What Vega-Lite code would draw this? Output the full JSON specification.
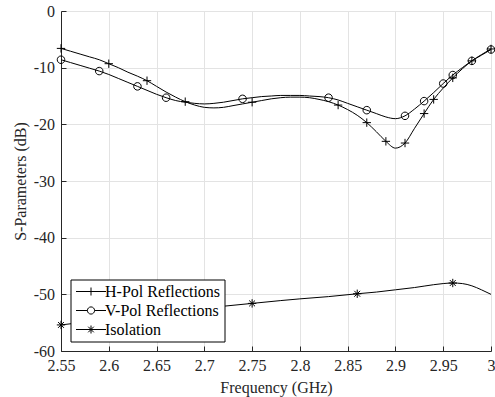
{
  "$schema": "https://vega.github.io/schema/vega-lite/v6.json",
  "autosize": "none",
  "width": 430,
  "height": 340,
  "padding": {"left": 61, "top": 11, "right": 4, "bottom": 46},
  "background": "white",
  "config": {
    "view": {"stroke": "#e3e3e3"},
    "font": "Liberation Serif",
    "axis": {
      "labelFont": "Liberation Serif",
      "titleFont": "Liberation Serif",
      "labelFontSize": 16,
      "titleFontSize": 16,
      "titleFontWeight": "normal",
      "labelColor": "#262626",
      "titleColor": "#262626",
      "domainColor": "#262626",
      "tickColor": "#262626",
      "gridColor": "#e3e3e3",
      "gridOpacity": 1,
      "tickSize": -5,
      "labelFlush": false,
      "labelOverlap": false
    },
    "legend": {
      "labelFont": "Liberation Serif",
      "labelFontSize": 16,
      "labelColor": "#000000"
    }
  },
  "resolve": {"scale": {"shape": "independent"}},
  "datasets": {
    "curves": [
      {"f": 2.55, "s": "H-Pol Reflections", "db": -6.6},
      {"f": 2.56, "s": "H-Pol Reflections", "db": -7.1},
      {"f": 2.57, "s": "H-Pol Reflections", "db": -7.6},
      {"f": 2.58, "s": "H-Pol Reflections", "db": -8.1},
      {"f": 2.59, "s": "H-Pol Reflections", "db": -8.6},
      {"f": 2.60, "s": "H-Pol Reflections", "db": -9.3},
      {"f": 2.61, "s": "H-Pol Reflections", "db": -10.0},
      {"f": 2.62, "s": "H-Pol Reflections", "db": -10.8},
      {"f": 2.63, "s": "H-Pol Reflections", "db": -11.5},
      {"f": 2.64, "s": "H-Pol Reflections", "db": -12.3},
      {"f": 2.65, "s": "H-Pol Reflections", "db": -13.3},
      {"f": 2.66, "s": "H-Pol Reflections", "db": -14.3},
      {"f": 2.67, "s": "H-Pol Reflections", "db": -15.2},
      {"f": 2.68, "s": "H-Pol Reflections", "db": -16.0},
      {"f": 2.69, "s": "H-Pol Reflections", "db": -16.6},
      {"f": 2.70, "s": "H-Pol Reflections", "db": -17.0},
      {"f": 2.71, "s": "H-Pol Reflections", "db": -17.1},
      {"f": 2.72, "s": "H-Pol Reflections", "db": -17.0},
      {"f": 2.73, "s": "H-Pol Reflections", "db": -16.7},
      {"f": 2.74, "s": "H-Pol Reflections", "db": -16.4},
      {"f": 2.75, "s": "H-Pol Reflections", "db": -16.1},
      {"f": 2.76, "s": "H-Pol Reflections", "db": -15.8},
      {"f": 2.77, "s": "H-Pol Reflections", "db": -15.5},
      {"f": 2.78, "s": "H-Pol Reflections", "db": -15.3},
      {"f": 2.79, "s": "H-Pol Reflections", "db": -15.2},
      {"f": 2.80, "s": "H-Pol Reflections", "db": -15.2},
      {"f": 2.81, "s": "H-Pol Reflections", "db": -15.3},
      {"f": 2.82, "s": "H-Pol Reflections", "db": -15.6},
      {"f": 2.83, "s": "H-Pol Reflections", "db": -16.0},
      {"f": 2.84, "s": "H-Pol Reflections", "db": -16.6},
      {"f": 2.85, "s": "H-Pol Reflections", "db": -17.4},
      {"f": 2.86, "s": "H-Pol Reflections", "db": -18.4},
      {"f": 2.87, "s": "H-Pol Reflections", "db": -19.7},
      {"f": 2.88, "s": "H-Pol Reflections", "db": -21.3},
      {"f": 2.89, "s": "H-Pol Reflections", "db": -23.0},
      {"f": 2.90, "s": "H-Pol Reflections", "db": -24.2},
      {"f": 2.91, "s": "H-Pol Reflections", "db": -23.3},
      {"f": 2.92, "s": "H-Pol Reflections", "db": -20.7},
      {"f": 2.93, "s": "H-Pol Reflections", "db": -18.1},
      {"f": 2.94, "s": "H-Pol Reflections", "db": -15.6},
      {"f": 2.95, "s": "H-Pol Reflections", "db": -13.6},
      {"f": 2.96, "s": "H-Pol Reflections", "db": -11.8},
      {"f": 2.97, "s": "H-Pol Reflections", "db": -10.2},
      {"f": 2.98, "s": "H-Pol Reflections", "db": -8.8},
      {"f": 2.99, "s": "H-Pol Reflections", "db": -7.7},
      {"f": 3.00, "s": "H-Pol Reflections", "db": -6.7},
      {"f": 2.55, "s": "V-Pol Reflections", "db": -8.6},
      {"f": 2.56, "s": "V-Pol Reflections", "db": -9.1},
      {"f": 2.57, "s": "V-Pol Reflections", "db": -9.6},
      {"f": 2.58, "s": "V-Pol Reflections", "db": -10.1},
      {"f": 2.59, "s": "V-Pol Reflections", "db": -10.6},
      {"f": 2.60, "s": "V-Pol Reflections", "db": -11.2},
      {"f": 2.61, "s": "V-Pol Reflections", "db": -11.9},
      {"f": 2.62, "s": "V-Pol Reflections", "db": -12.6},
      {"f": 2.63, "s": "V-Pol Reflections", "db": -13.3},
      {"f": 2.64, "s": "V-Pol Reflections", "db": -14.0},
      {"f": 2.65, "s": "V-Pol Reflections", "db": -14.7},
      {"f": 2.66, "s": "V-Pol Reflections", "db": -15.3},
      {"f": 2.67, "s": "V-Pol Reflections", "db": -15.8},
      {"f": 2.68, "s": "V-Pol Reflections", "db": -16.1},
      {"f": 2.69, "s": "V-Pol Reflections", "db": -16.3},
      {"f": 2.70, "s": "V-Pol Reflections", "db": -16.4},
      {"f": 2.71, "s": "V-Pol Reflections", "db": -16.3},
      {"f": 2.72, "s": "V-Pol Reflections", "db": -16.1},
      {"f": 2.73, "s": "V-Pol Reflections", "db": -15.8},
      {"f": 2.74, "s": "V-Pol Reflections", "db": -15.5},
      {"f": 2.75, "s": "V-Pol Reflections", "db": -15.3},
      {"f": 2.76, "s": "V-Pol Reflections", "db": -15.1},
      {"f": 2.77, "s": "V-Pol Reflections", "db": -15.0},
      {"f": 2.78, "s": "V-Pol Reflections", "db": -14.9},
      {"f": 2.79, "s": "V-Pol Reflections", "db": -14.9},
      {"f": 2.80, "s": "V-Pol Reflections", "db": -14.9},
      {"f": 2.81, "s": "V-Pol Reflections", "db": -15.0},
      {"f": 2.82, "s": "V-Pol Reflections", "db": -15.1},
      {"f": 2.83, "s": "V-Pol Reflections", "db": -15.3},
      {"f": 2.84, "s": "V-Pol Reflections", "db": -15.7},
      {"f": 2.85, "s": "V-Pol Reflections", "db": -16.3},
      {"f": 2.86, "s": "V-Pol Reflections", "db": -16.9},
      {"f": 2.87, "s": "V-Pol Reflections", "db": -17.5},
      {"f": 2.88, "s": "V-Pol Reflections", "db": -18.1},
      {"f": 2.89, "s": "V-Pol Reflections", "db": -18.7},
      {"f": 2.90, "s": "V-Pol Reflections", "db": -19.0},
      {"f": 2.91, "s": "V-Pol Reflections", "db": -18.5},
      {"f": 2.92, "s": "V-Pol Reflections", "db": -17.3},
      {"f": 2.93, "s": "V-Pol Reflections", "db": -15.9},
      {"f": 2.94, "s": "V-Pol Reflections", "db": -14.4},
      {"f": 2.95, "s": "V-Pol Reflections", "db": -12.8},
      {"f": 2.96, "s": "V-Pol Reflections", "db": -11.3},
      {"f": 2.97, "s": "V-Pol Reflections", "db": -10.0},
      {"f": 2.98, "s": "V-Pol Reflections", "db": -8.8},
      {"f": 2.99, "s": "V-Pol Reflections", "db": -7.8},
      {"f": 3.00, "s": "V-Pol Reflections", "db": -6.8},
      {"f": 2.55, "s": "Isolation", "db": -55.4},
      {"f": 2.57, "s": "Isolation", "db": -55.0},
      {"f": 2.60, "s": "Isolation", "db": -54.4},
      {"f": 2.62, "s": "Isolation", "db": -54.0},
      {"f": 2.65, "s": "Isolation", "db": -53.4},
      {"f": 2.68, "s": "Isolation", "db": -52.8},
      {"f": 2.70, "s": "Isolation", "db": -52.4},
      {"f": 2.72, "s": "Isolation", "db": -52.1},
      {"f": 2.75, "s": "Isolation", "db": -51.6},
      {"f": 2.78, "s": "Isolation", "db": -51.1},
      {"f": 2.80, "s": "Isolation", "db": -50.8},
      {"f": 2.83, "s": "Isolation", "db": -50.4},
      {"f": 2.86, "s": "Isolation", "db": -49.9},
      {"f": 2.88, "s": "Isolation", "db": -49.6},
      {"f": 2.90, "s": "Isolation", "db": -49.2},
      {"f": 2.92, "s": "Isolation", "db": -48.8},
      {"f": 2.94, "s": "Isolation", "db": -48.3},
      {"f": 2.95, "s": "Isolation", "db": -48.1},
      {"f": 2.96, "s": "Isolation", "db": -48.0},
      {"f": 2.97, "s": "Isolation", "db": -48.1},
      {"f": 2.98, "s": "Isolation", "db": -48.5},
      {"f": 2.99, "s": "Isolation", "db": -49.2},
      {"f": 3.00, "s": "Isolation", "db": -50.0}
    ],
    "markers": [
      {"f": 2.55, "s": "H-Pol Reflections", "db": -6.6},
      {"f": 2.60, "s": "H-Pol Reflections", "db": -9.3},
      {"f": 2.64, "s": "H-Pol Reflections", "db": -12.3},
      {"f": 2.68, "s": "H-Pol Reflections", "db": -16.0},
      {"f": 2.75, "s": "H-Pol Reflections", "db": -16.1},
      {"f": 2.84, "s": "H-Pol Reflections", "db": -16.6},
      {"f": 2.87, "s": "H-Pol Reflections", "db": -19.7},
      {"f": 2.89, "s": "H-Pol Reflections", "db": -23.0},
      {"f": 2.91, "s": "H-Pol Reflections", "db": -23.3},
      {"f": 2.93, "s": "H-Pol Reflections", "db": -18.1},
      {"f": 2.94, "s": "H-Pol Reflections", "db": -15.6},
      {"f": 2.96, "s": "H-Pol Reflections", "db": -11.8},
      {"f": 2.98, "s": "H-Pol Reflections", "db": -8.8},
      {"f": 3.00, "s": "H-Pol Reflections", "db": -6.7},
      {"f": 2.55, "s": "V-Pol Reflections", "db": -8.6},
      {"f": 2.59, "s": "V-Pol Reflections", "db": -10.6},
      {"f": 2.63, "s": "V-Pol Reflections", "db": -13.3},
      {"f": 2.66, "s": "V-Pol Reflections", "db": -15.3},
      {"f": 2.74, "s": "V-Pol Reflections", "db": -15.5},
      {"f": 2.83, "s": "V-Pol Reflections", "db": -15.3},
      {"f": 2.87, "s": "V-Pol Reflections", "db": -17.5},
      {"f": 2.91, "s": "V-Pol Reflections", "db": -18.5},
      {"f": 2.93, "s": "V-Pol Reflections", "db": -15.9},
      {"f": 2.95, "s": "V-Pol Reflections", "db": -12.8},
      {"f": 2.96, "s": "V-Pol Reflections", "db": -11.3},
      {"f": 2.98, "s": "V-Pol Reflections", "db": -8.8},
      {"f": 3.00, "s": "V-Pol Reflections", "db": -6.8},
      {"f": 2.55, "s": "Isolation", "db": -55.4},
      {"f": 2.65, "s": "Isolation", "db": -53.4},
      {"f": 2.75, "s": "Isolation", "db": -51.6},
      {"f": 2.86, "s": "Isolation", "db": -49.9},
      {"f": 2.96, "s": "Isolation", "db": -48.0}
    ]
  },
  "layer": [
    {
      "data": {"name": "curves"},
      "mark": {"type": "line", "color": "black", "strokeWidth": 1, "interpolate": "monotone", "clip": true},
      "encoding": {
        "x": {
          "field": "f", "type": "quantitative",
          "scale": {"domain": [2.55, 3], "nice": false, "zero": false},
          "axis": {
            "title": "Frequency (GHz)",
            "values": [2.55, 2.6, 2.65, 2.7, 2.75, 2.8, 2.85, 2.9, 2.95, 3],
            "labelExpr": "'' + datum.value",
            "labelPadding": 11,
            "titlePadding": 6
          }
        },
        "y": {
          "field": "db", "type": "quantitative",
          "scale": {"domain": [-60, 0], "nice": false},
          "axis": {
            "title": "S-Parameters (dB)",
            "values": [-60, -50, -40, -30, -20, -10, 0],
            "labelExpr": "'' + datum.value",
            "labelPadding": 11.5,
            "titlePadding": 5
          }
        },
        "detail": {"field": "s"}
      }
    },
    {
      "data": {"name": "markers"},
      "mark": {"type": "point", "filled": false, "color": "black", "strokeWidth": 1, "size": 70, "opacity": 1},
      "encoding": {
        "x": {"field": "f", "type": "quantitative"},
        "y": {"field": "db", "type": "quantitative"},
        "shape": {
          "field": "s", "type": "nominal",
          "scale": {
            "domain": ["H-Pol Reflections", "V-Pol Reflections", "Isolation"],
            "range": [
              "M-1,0L1,0M0,-1L0,1",
              "M0.9,0A0.9,0.9 0 1,1 -0.9,0A0.9,0.9 0 1,1 0.9,0Z",
              "M-1,0L1,0M0,-1L0,1M-0.7,-0.7L0.7,0.7M-0.7,0.7L0.7,-0.7"
            ]
          },
          "legend": null
        }
      }
    },
    {
      "data": {"name": "markers"},
      "transform": [{"filter": "false"}],
      "mark": {"type": "point", "filled": false, "color": "black", "strokeWidth": 1, "size": 64, "opacity": 1},
      "encoding": {
        "x": {"field": "f", "type": "quantitative"},
        "y": {"field": "db", "type": "quantitative"},
        "shape": {
          "field": "s", "type": "nominal",
          "scale": {
            "domain": ["H-Pol Reflections", "V-Pol Reflections", "Isolation"],
            "range": [
              "M-3.75,0L3.75,0M0,-1L0,1",
              "M-3.75,0L-0.9,0M0.9,0L3.75,0M0.9,0A0.9,0.9 0 1,1 -0.9,0A0.9,0.9 0 1,1 0.9,0Z",
              "M-3.75,0L3.75,0M0,-1L0,1M-0.7,-0.7L0.7,0.7M-0.7,0.7L0.7,-0.7"
            ]
          },
          "legend": {
            "title": null,
            "orient": "none",
            "legendX": 9.5,
            "legendY": 268.5,
            "strokeColor": "black",
            "fillColor": "white",
            "padding": 4,
            "rowPadding": 3,
            "symbolSize": 64,
            "symbolOffset": 8.5,
            "labelOffset": 6,
            "symbolStrokeColor": "black",
            "symbolFillColor": "transparent",
            "symbolStrokeWidth": 1,
            "symbolOpacity": 1
          }
        }
      }
    }
  ]
}
